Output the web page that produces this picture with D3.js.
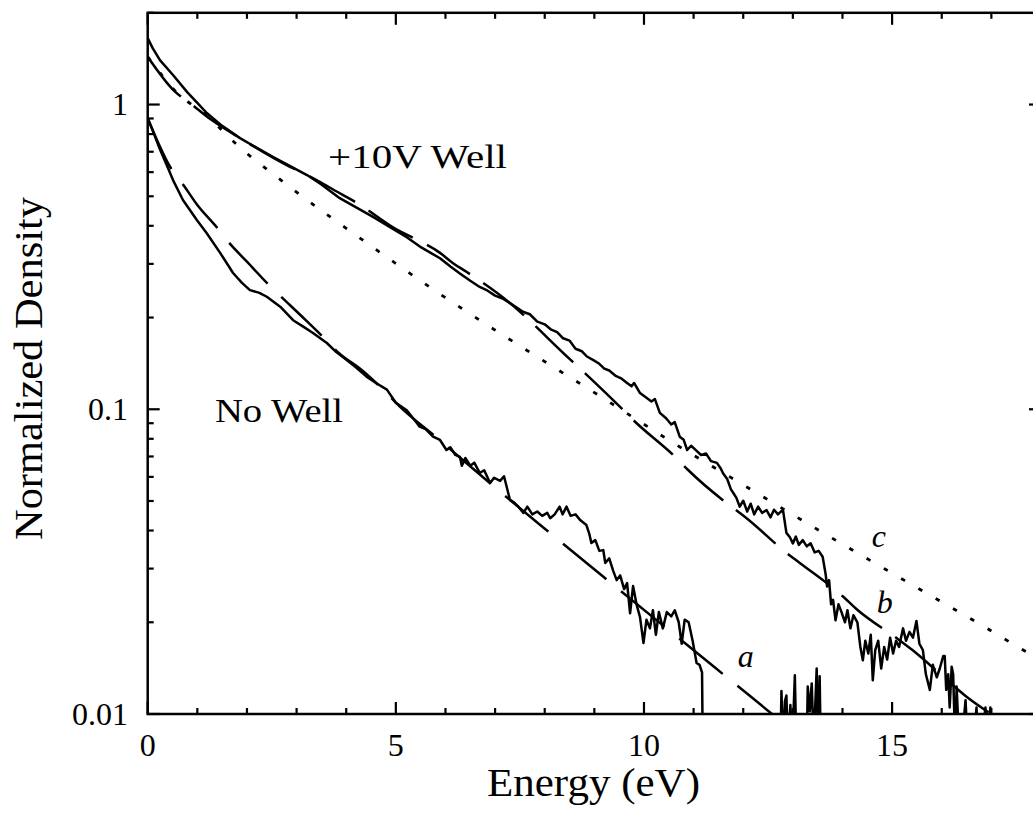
<!DOCTYPE html>
<html><head><meta charset="utf-8">
<script src="https://cdn.jsdelivr.net/npm/d3@7"></script>
<style>body{margin:0;background:#fff;overflow:hidden}svg{display:block}
text{font-family:"Liberation Serif","DejaVu Serif","Noto Serif",serif;}</style>
</head><body>
<script>
// ---- data (energy in eV, normalized density) ----
const well10E = [0,0.1,0.25,0.51,0.8,1,1.19,1.5,1.86,2.2,2.52,2.9,3.21,3.5,3.87,4.2,4.54,4.9,5.22,5.52,5.89,6.1,6.29,6.5,6.69,6.85,7,7.15,7.3,7.45,7.56,7.7,7.85,8,8.12,8.25,8.37,8.5,8.62,8.75,8.85,8.98,9.1,9.2,9.3,9.42,9.55,9.66,9.75,9.8,9.92,10.05,10.15,10.22,10.32,10.45,10.55,10.62,10.72,10.8,10.87,10.95,11.05,11.15,11.25,11.35,11.47,11.55,11.59,11.68,11.75,11.8,11.86,11.93,12,12.08,12.15,12.22,12.3,12.38,12.47,12.55,12.62,12.7,12.8,12.87,12.94,13,13.06,13.12,13.2,13.28,13.36,13.44,13.52,13.6,13.66,13.69,13.73,13.77,13.81,13.86,13.92,13.98,14.05,14.1,14.16,14.22,14.3,14.36,14.41,14.46,14.52,14.57,14.61,14.66,14.72,14.78,14.84,14.9,14.96,15.02,15.08,15.14,15.22,15.28,15.35,15.42,15.49,15.55,15.62,15.68,15.76,15.82,15.9,15.96,16.03,16.06,16.09,16.13,16.16,16.2,16.23,16.27,16.3,16.35,16.4,16.48,16.52,16.58,16.64,16.7,16.74,16.8,16.88,16.92,16.98,17.02];
const well10N = [1.652,1.531,1.396,1.250,1.096,1.012,0.938,0.851,0.776,0.721,0.673,0.624,0.587,0.547,0.493,0.460,0.428,0.394,0.367,0.339,0.313,0.294,0.279,0.264,0.252,0.245,0.236,0.231,0.223,0.215,0.209,0.205,0.194,0.190,0.183,0.179,0.171,0.168,0.158,0.155,0.149,0.145,0.141,0.136,0.134,0.129,0.126,0.122,0.119,0.122,0.113,0.109,0.106,0.108,0.0973,0.0933,0.0891,0.0908,0.0813,0.0794,0.0735,0.0759,0.0733,0.0708,0.0716,0.0676,0.0667,0.0638,0.0618,0.0589,0.0547,0.0531,0.0513,0.0479,0.0501,0.0462,0.0490,0.0452,0.0479,0.0457,0.0467,0.0442,0.0468,0.0452,0.0468,0.0393,0.0380,0.0363,0.0382,0.0359,0.0372,0.0355,0.0363,0.0339,0.0343,0.0328,0.0288,0.0262,0.0275,0.0229,0.0237,0.0203,0.0229,0.0216,0.0200,0.0219,0.0191,0.0211,0.0200,0.0166,0.0150,0.0174,0.0158,0.0182,0.0129,0.0162,0.0174,0.0141,0.0166,0.0151,0.0178,0.0158,0.0174,0.0166,0.0191,0.0174,0.0186,0.0178,0.0202,0.0170,0.0162,0.0135,0.0120,0.0145,0.0132,0.0141,0.0155,0.0155,0.0120,0.0135,0.0105,0.0143,0.0135,0.0080,0.0123,0.0080,0.0080,0.0111,0.0080,0.0080,0.0080,0.0105,0.0080,0.0080,0.0105,0.0080,0.0105,0.0080];

const noWellE = [0,0.1,0.25,0.4,0.51,0.71,0.99,1.19,1.46,1.72,1.9,2.06,2.25,2.4,2.67,2.93,3.15,3.33,3.61,3.8,4.01,4.2,4.41,4.6,4.82,5,5.22,5.4,5.48,5.6,5.75,5.89,6.02,6.1,6.2,6.29,6.33,6.4,6.5,6.58,6.69,6.78,6.9,6.98,7.1,7.18,7.3,7.38,7.47,7.57,7.65,7.75,7.85,7.95,8.05,8.11,8.2,8.3,8.36,8.44,8.52,8.62,8.72,8.84,8.9,8.94,9.02,9.1,9.18,9.22,9.3,9.38,9.45,9.52,9.6,9.66,9.72,9.78,9.85,9.92,9.99,10.05,10.12,10.18,10.24,10.3,10.38,10.46,10.55,10.62,10.7,10.76,10.82,10.9,10.98,11.06,11.12,11.17,11.19,11.5,12.74,12.77,12.8,12.84,12.87,12.9,12.95,12.99,13.04,13.07,13.28,13.3,13.34,13.38,13.42,13.48,13.51,13.54,13.57];
const noWellN = [0.902,0.822,0.710,0.624,0.565,0.486,0.418,0.378,0.326,0.280,0.260,0.246,0.241,0.234,0.217,0.196,0.186,0.178,0.165,0.154,0.145,0.137,0.128,0.122,0.116,0.105,0.0993,0.0912,0.0877,0.0861,0.0813,0.0793,0.0735,0.0750,0.0708,0.0698,0.0653,0.0692,0.0653,0.0668,0.0618,0.0631,0.0573,0.0596,0.0582,0.0603,0.0504,0.0495,0.0479,0.0457,0.0479,0.0452,0.0462,0.0447,0.0457,0.0439,0.0452,0.0479,0.0452,0.0479,0.0447,0.0452,0.0432,0.0417,0.0389,0.0364,0.0372,0.0343,0.0345,0.0313,0.0324,0.0295,0.0275,0.0285,0.0257,0.0269,0.0214,0.0263,0.0229,0.0208,0.0171,0.0204,0.0191,0.0219,0.0182,0.0216,0.0191,0.0216,0.0209,0.0219,0.0200,0.0170,0.0204,0.0200,0.0174,0.0147,0.0145,0.0137,0.0063,0.0050,0.0063,0.0119,0.0079,0.0110,0.0115,0.0079,0.0107,0.0079,0.0134,0.0079,0.0079,0.0123,0.0102,0.0126,0.0079,0.0141,0.0079,0.0133,0.0063];

const fitAE = [0,0.49,0.69,1,1.4,1.64,2,2.46,2.75,3.2,3.59,3.85,4.3,4.72,5.08,5.83,7.23,8.07,9.17,11.43,12.58,13];
const fitAN = [0.902,0.610,0.553,0.468,0.394,0.352,0.305,0.254,0.229,0.195,0.169,0.153,0.135,0.117,0.102,0.0805,0.0515,0.0397,0.0283,0.0142,0.0100,0.00877];

const fitBE = [0,0.55,0.85,1.29,1.92,2.81,3.07,3.93,4.22,5.04,5.32,5.89,6.16,6.43,7.3,7.57,8.41,8.67,9.58,9.78,10.66,10.89,11.76,12.03,12.88,13.14,14.01,14.28,15.12,15.39,16.23,16.5,16.97,17.3];
const fitBN = [1.435,1.102,1.012,0.889,0.766,0.632,0.603,0.505,0.475,0.387,0.367,0.326,0.301,0.282,0.223,0.204,0.151,0.138,0.0995,0.0923,0.0690,0.0632,0.0479,0.0444,0.0337,0.0313,0.0243,0.0221,0.0176,0.0163,0.0124,0.0114,0.01005,0.0092];

const fitCE = [0,0.6,1.26,1.557,2.901,4.243,5.888,7.232,9.247,10.556,11.898,13.578,15.256,16.934,17.587,18];
const fitCN = [1.435,1.09,0.902,0.804,0.531,0.368,0.239,0.172,0.107,0.0782,0.0578,0.0396,0.0274,0.0190,0.0164,0.0150];

const xMajorTicks = [0,5,10,15];
const xMinorTicks = [1,2,3,4,6,7,8,9,11,12,13,14,16,17];
const yMajorTicks = [0.01,0.1,1];
const yTickLabels = ["0.01","0.1","1"];
const yMinorTicks = [0.02,0.03,0.04,0.05,0.06,0.07,0.08,0.09,0.2,0.3,0.4,0.5,0.6,0.7,0.8,0.9,2];

const curveLabels = [{t:"a",e:11.89,n:0.01426},{t:"b",e:14.69,n:0.0214},{t:"c",e:14.59,n:0.0353}];

// ---- layout ----
const W = 1033, H = 820;
const L = 147.7, R = 1041, T = 12.8, B = 714;
const x = d3.scaleLinear().domain([0,18]).range([L,R]);
const y = d3.scaleLog().domain([0.01,2]).range([B,T]);
const FONT = "Liberation Serif, DejaVu Serif, Noto Serif, serif";

const svg = d3.select("body").append("svg").attr("width",W).attr("height",H);

svg.append("clipPath").attr("id","clip").append("rect")
  .attr("x",L).attr("y",T).attr("width",R-L).attr("height",B-T);

const zip = (E,N)=>E.map((e,i)=>[e,N[i]]);
const line = d3.line().x(d=>x(d[0])).y(d=>y(d[1]));
const smooth = d3.line().x(d=>x(d[0])).y(d=>y(d[1])).curve(d3.curveMonotoneX);

const g = svg.append("g").attr("clip-path","url(#clip)");
function draw(data, gen, dash, w){
  g.append("path").datum(data).attr("d",gen).attr("fill","none")
    .attr("stroke","#000").attr("stroke-width",w)
    .attr("stroke-linejoin","round")
    .attr("stroke-dasharray",dash||null);
}
draw(zip(fitCE,fitCN), smooth, "4.5,15.5", 2.8);
draw(zip(fitAE,fitAN), smooth, "56,19", 2.5);
draw(zip(fitBE,fitBN), smooth, "52,16", 2.5);
draw(zip(noWellE,noWellN), line, null, 2.5);
draw(zip(well10E,well10N), line, null, 2.5);

// ---- axes (box with inward ticks) ----
const ax = svg.append("g").attr("stroke","#000").attr("fill","none");
ax.append("rect").attr("x",L).attr("y",T).attr("width",R-L).attr("height",B-T).attr("stroke-width",2.5);
function xt(v,len){
  ax.append("line").attr("x1",x(v)).attr("x2",x(v)).attr("y1",B).attr("y2",B-len).attr("stroke-width",2.2);
  ax.append("line").attr("x1",x(v)).attr("x2",x(v)).attr("y1",T).attr("y2",T+len).attr("stroke-width",2.2);
}
function yt(v,len){
  ax.append("line").attr("y1",y(v)).attr("y2",y(v)).attr("x1",L).attr("x2",L+len).attr("stroke-width",2.2);
  ax.append("line").attr("y1",y(v)).attr("y2",y(v)).attr("x1",R).attr("x2",R-len).attr("stroke-width",2.2);
}
xMajorTicks.forEach(v=>xt(v,12));
xMinorTicks.forEach(v=>xt(v,6));
yMajorTicks.forEach(v=>yt(v,12));
yMinorTicks.forEach(v=>yt(v,6));

const tx = svg.append("g").attr("font-family",FONT).attr("fill","#000");
// tick labels
tx.append("g").selectAll("text").data(xMajorTicks).join("text")
  .attr("x",d=>x(d)).attr("y",756).attr("text-anchor","middle")
  .attr("font-size",32).text(d=>d);
tx.append("g").selectAll("text").data(yMajorTicks).join("text")
  .attr("x",128).attr("y",d=>y(d)+10.5).attr("text-anchor","end")
  .attr("font-size",32).text((d,i)=>yTickLabels[i]);

// axis titles
tx.append("text").attr("x",593.5).attr("y",796).attr("text-anchor","middle")
  .attr("font-size",39).attr("textLength",213).attr("lengthAdjust","spacingAndGlyphs")
  .text("Energy (eV)");
tx.append("text").attr("transform","translate(41.7,368.5) rotate(-90)")
  .attr("text-anchor","middle").attr("font-size",40)
  .attr("textLength",343).attr("lengthAdjust","spacingAndGlyphs")
  .text("Normalized Density");

// annotations
tx.append("text").attr("x",328).attr("y",168).attr("font-size",34)
  .attr("textLength",179).attr("lengthAdjust","spacingAndGlyphs").text("+10V Well");
tx.append("text").attr("x",215).attr("y",421.7).attr("font-size",34)
  .attr("textLength",128).attr("lengthAdjust","spacingAndGlyphs").text("No Well");
tx.append("g").selectAll("text").data(curveLabels).join("text")
  .attr("x",d=>x(d.e)).attr("y",d=>y(d.n)).attr("font-size",32)
  .attr("font-style","italic").text(d=>d.t);
</script>
</body></html>
